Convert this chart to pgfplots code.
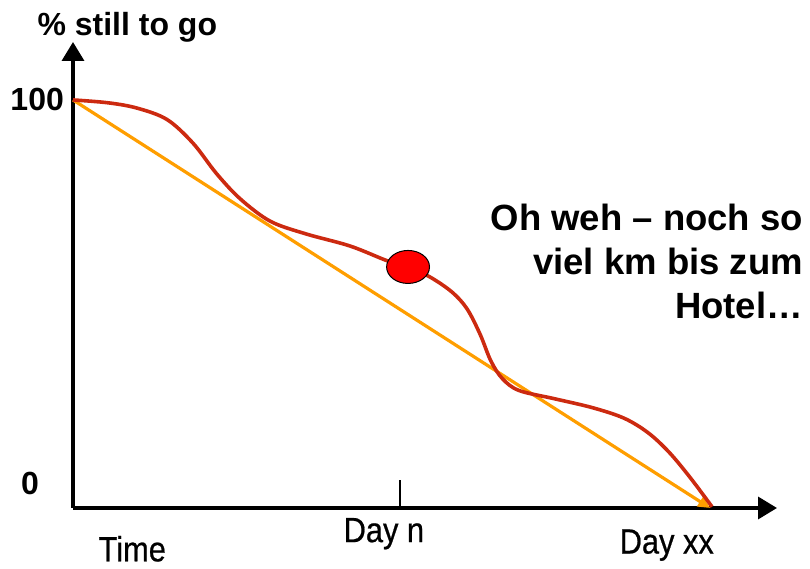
\documentclass[border=0pt]{standalone}
\usepackage{pgfplots}
\pgfplotsset{compat=1.18}
\usepackage{fontspec}
\setmainfont{Liberation Sans}
\newfontfamily\labfont[FakeStretch=0.88, FakeBold=0.6]{Liberation Sans}
\usetikzlibrary{arrows.meta}
\definecolor{redline}{HTML}{CC2A10}
\definecolor{orangeline}{HTML}{FF9E00}
\definecolor{dotred}{HTML}{FF0000}
\begin{document}
\begin{tikzpicture}
\path[use as bounding box] (-73pt,-61pt) rectangle (737pt,508pt);
\begin{axis}[
  at={(0,0)}, anchor=south west,
  scale only axis,
  width=704pt, height=466pt,
  xmin=0, xmax=110.5, ymin=0, ymax=114.2,
  axis lines=left,
  axis line style={line width=3.5pt, -{Triangle[length=19pt,width=22pt]}},
  xtick={51.3}, xticklabels={},
  ytick=\empty,
  tick align=inside,
  major tick length=28pt,
  every tick/.style={black, line width=2pt},
  clip=false,
]
\addplot[orangeline, line width=3.2pt, -{Triangle[length=12pt,width=11pt]}] coordinates {(0,100) (100,0)};
\addplot[redline, line width=3.6pt, smooth, tension=0.55] coordinates {
(0,100) (5.5,99.3) (10.05,98.0) (14.76,95.2) (18.84,89.4) (22.5,82.0)
(26.22,75.8) (30.93,70.3) (36.5,67.2) (43.49,64.2)
(49.29,60.6) (52.59,59.07) (56.04,56.6) (59.5,52.9) (61.85,48.8)
(63.89,42.6) (65.6,36.0) (67.4,31.7) (70.0,28.8) (75.5,26.8)
(81.5,24.6) (86.5,22.0) (90.3,18.4) (93.6,13.6) (96.9,7.4) (100.3,0.3)
};
\addplot[only marks, mark=*, mark size=16.5pt, mark options={fill=dotred, draw=black, line width=1pt, xscale=1.3}] coordinates {(52.59,59.07)};
\node[anchor=west, font=\fontsize{32}{38}\selectfont\bfseries, inner sep=0pt] at (axis cs:-5.6,117.9) {\% still to go};
\node[anchor=east, font=\fontsize{32}{38}\selectfont\bfseries, inner sep=0pt] at (axis cs:-1.4,100) {100};
\node[font=\fontsize{32}{38}\selectfont\bfseries, inner sep=0pt] at (axis cs:-6.75,6.1) {0};
\node[font=\labfont\fontsize{35}{40}\selectfont, inner sep=0pt] at (axis cs:48.8,-6.3) {Day n};
\node[font=\labfont\fontsize{35}{40}\selectfont, inner sep=0pt] at (axis cs:93.2,-9.1) {Day xx};
\node[font=\labfont\fontsize{35}{40}\selectfont, inner sep=0pt] at (axis cs:9.3,-10.0) {Time};
\node[anchor=east, align=right, font=\fontsize{36.5}{44}\selectfont\bfseries, inner sep=0pt] at (axis cs:114.6,60.3) {Oh weh -- noch so\\viel km bis zum\\Hotel\ldots};
\end{axis}
\end{tikzpicture}
\end{document}
